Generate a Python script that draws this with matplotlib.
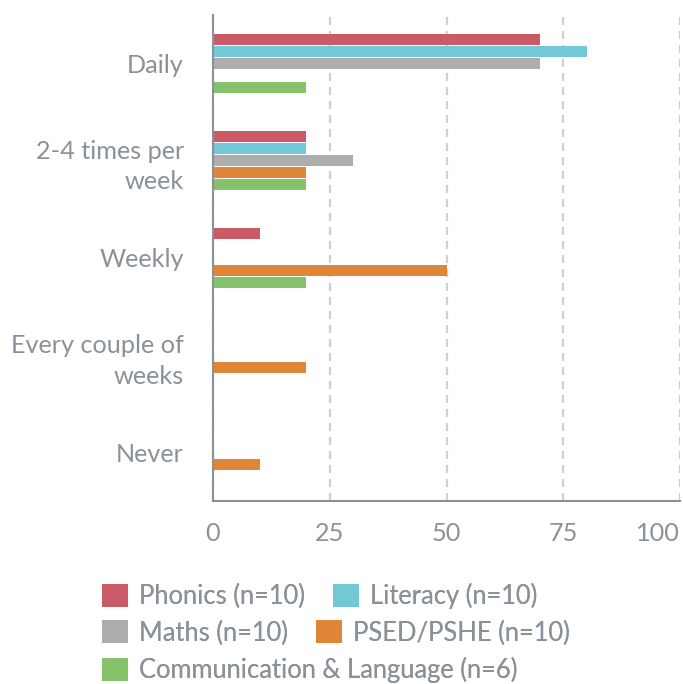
import numpy as np
import matplotlib.pyplot as plt
from matplotlib.patches import Patch

categories = ['Daily', '2-4 times per\nweek', 'Weekly', 'Every couple of\nweeks', 'Never']
series = ['Phonics (n=10)', 'Literacy (n=10)', 'Maths (n=10)', 'PSED/PSHE (n=10)',
          'Communication & Language (n=6)']
phonics = [70, 20, 10, 0, 0]
literacy = [80, 20, 0, 0, 0]
maths = [70, 30, 0, 0, 0]
psed = [0, 20, 50, 20, 10]
comm = [20, 20, 20, 0, 0]
values = [phonics, literacy, maths, psed, comm]
colors = ['#c95a66', '#72c9d5', '#adadad', '#e08637', '#86c26a']

txt = '#8a9299'
plt.rcParams['font.family'] = ['Lato', 'DejaVu Sans']

fig = plt.figure(figsize=(6.83, 6.84), dpi=100)
ax = fig.add_axes([213 / 683, 1 - 501 / 684, (680 - 213) / 683, (501 - 15) / 684])

ind = np.arange(len(categories))
step = 0.124
height = 0.113
for i, (vals, c) in enumerate(zip(values, colors)):
    ax.barh(ind + (i - 2) * step, vals, height, color=c, zorder=3)

ax.set_ylim(len(categories) - 0.5, -0.5)
ax.set_xlim(0, 100)
ax.set_xticks([0, 25, 50, 75, 100])
ax.set_yticks(ind)
ax.set_yticklabels(categories, multialignment='right', linespacing=1.4)
ax.tick_params(axis='both', length=0, labelsize=18.2, labelcolor=txt)
ax.tick_params(axis='y', pad=21)
ax.tick_params(axis='x', pad=15)
ax.get_xticklabels()[-1].set_horizontalalignment('right')
ax.grid(axis='x', color='#d0d0d0', linestyle=(0, (3.6, 2.7)), linewidth=1.6, zorder=0)
for s in ['top', 'right']:
    ax.spines[s].set_visible(False)
for s in ['left', 'bottom']:
    ax.spines[s].set_color('#8a9299')
    ax.spines[s].set_linewidth(1.5)
    ax.spines[s].set_zorder(4)

handles = [Patch(facecolor=c, edgecolor='none') for c in colors]
rows = [(0, 1), (2, 3), (4,)]
row_y = [596, 633, 670]
for r, y in zip(rows, row_y):
    leg = fig.legend([handles[k] for k in r], [series[k] for k in r],
                     loc='center left', bbox_to_anchor=(102 / 683, 1 - y / 684),
                     ncol=len(r), frameon=False, fontsize=18.4, labelcolor=txt,
                     handlelength=1.0, handleheight=1.0, handletextpad=0.45,
                     columnspacing=1.1, borderpad=0, borderaxespad=0)
    fig.add_artist(leg)

fig.savefig('out.png', dpi=100)
